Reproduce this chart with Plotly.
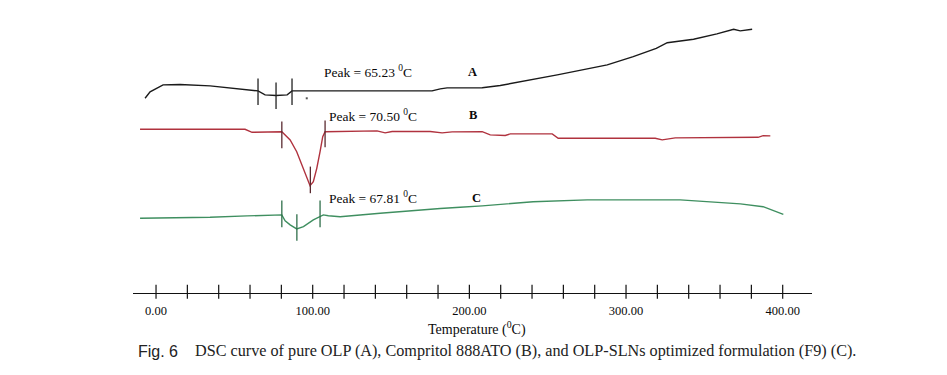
import plotly.graph_objects as go

# ---- data (temperature in degC, heat flow in arbitrary units) ----
a_temp = [-7.0, -3.8, 4.5, 15.3, 34.5, 53.6, 65.1, 69.6, 76.6, 83.7, 86.8, 104.7, 143.0, 176.2,
          181.4, 185.8, 208.2, 219.7, 256.1, 288.0, 304.6, 319.3, 326.3, 343.1, 358.0, 368.7,
          372.9, 380.5]
a_heat = [9.75, 10.07, 10.42, 10.44, 10.37, 10.22, 10.12, 9.92, 9.89, 9.92, 10.12, 10.12, 10.12, 10.12,
          10.22, 10.27, 10.28, 10.39, 10.92, 11.42, 11.83, 12.25, 12.53, 12.70, 12.97, 13.2,
          13.12, 13.2]

b_temp = [-10.2, 56.8, 61.3, 80.3, 81.3, 85.6, 89.8, 93.0, 96.2, 98.3, 100.4, 102.6, 104.7, 106.4,
          107.9, 141.1, 146.2, 150.7, 175.0, 182.6, 189.0, 208.2, 213.3, 222.9, 226.1, 252.9,
          256.7, 318.6, 323.1, 331.4, 384.3, 387.5, 392.1]
b_heat = [8.2, 8.2, 8.05, 8.08, 8.0, 7.67, 7.08, 6.42, 5.75, 5.38, 5.58, 6.25, 7.08, 7.83,
          8.08, 8.12, 8.02, 8.09, 8.09, 8.02, 8.07, 8.08, 7.92, 7.89, 7.97, 7.97,
          7.75, 7.75, 7.67, 7.77, 7.8, 7.88, 7.87]

c_temp = [-10.2, 34.5, 58.1, 72.8, 80.3, 82.4, 85.6, 89.8, 94.1, 100.4, 104.7, 106.8, 110.0, 117.5,
          143.0, 168.6, 181.4, 194.1, 208.2, 240.7, 275.2, 334.6, 351.9, 373.0, 387.5, 400.4]
c_heat = [3.75, 3.8, 3.87, 3.92, 3.92, 3.62, 3.42, 3.22, 3.33, 3.67, 3.83, 3.92, 3.88, 3.83,
          4.0, 4.17, 4.24, 4.3, 4.37, 4.58, 4.67, 4.67, 4.58, 4.47, 4.33, 3.95]

# onset / peak / endset markers
a_mark_temp = [65.1, 76.6, 86.8]
a_mark_heat = [10.08, 9.88, 10.08]
b_mark_temp = [80.3, 98.5, 107.9]
b_mark_heat = [7.92, 5.67, 7.97]
c_mark_temp = [80.3, 89.9, 104.7]
c_mark_heat = [3.97, 3.29, 3.97]

peak_labels = ["Peak = 65.23 <sup>0</sup>C", "Peak = 70.50 <sup>0</sup>C", "Peak = 67.81 <sup>0</sup>C"]
peak_label_temp = [135.6, 138.6, 138.6]
curve_names = ["A", "B", "C"]
name_temp = [201.8, 202.4, 204.3]
label_heat = [11.08, 8.9, 4.77]

major_ticks = [0, 100, 200, 300, 400]
major_tick_text = ["0.00", "100.00", "200.00", "300.00", "400.00"]
minor_ticks = list(range(0, 401, 20))

x_title = "Temperature (<sup>0</sup>C)"
fig_label = "Fig. 6"
caption = "DSC curve of pure OLP (A), Compritol 888ATO (B), and OLP-SLNs optimized formulation (F9) (C)."

colors = {"A": "#1a1a1a", "B": "#b0323e", "C": "#3f8f60"}
mark_colors = {"A": "#222222", "B": "#5a2a30", "C": "#2f6f4a"}
SERIF = "Liberation Serif, Times New Roman, serif"

# page has an 8px body margin; figure is sized to fill the rest of the window
W, H, OFF = 939, 367, 8


def px_x(p):
    return (p - OFF) / W


def px_y(p):
    return 1 - (p - OFF) / H


fig = go.Figure()
for name, xs, ys in [("A", a_temp, a_heat), ("B", b_temp, b_heat), ("C", c_temp, c_heat)]:
    fig.add_trace(go.Scatter(x=xs, y=ys, mode="lines", line=dict(color=colors[name], width=1.4),
                             showlegend=False, hoverinfo="skip"))
for name, xs, ys in [("A", a_mark_temp, a_mark_heat), ("B", b_mark_temp, b_mark_heat),
                     ("C", c_mark_temp, c_mark_heat)]:
    fig.add_trace(go.Scatter(x=xs, y=ys, mode="markers",
                             marker=dict(symbol="line-ns", size=19,
                                         line=dict(color=mark_colors[name], width=1.3)),
                             showlegend=False, hoverinfo="skip", cliponaxis=False))
# small stray dot on curve A
fig.add_trace(go.Scatter(x=[96.2], y=[9.75], mode="markers",
                         marker=dict(symbol="square", size=2, color="#555555"),
                         showlegend=False, hoverinfo="skip"))
# axis tick marks crossing the axis line
fig.add_trace(go.Scatter(x=minor_ticks, y=[0.08] * len(minor_ticks), mode="markers",
                         marker=dict(symbol="line-ns", size=10, line=dict(color="#111111", width=1.2)),
                         showlegend=False, hoverinfo="skip", cliponaxis=False))

annotations = []
for txt, tx, ty in zip(peak_labels, peak_label_temp, label_heat):
    annotations.append(dict(x=tx, y=ty, xref="x", yref="y", text=txt, showarrow=False,
                            font=dict(family=SERIF, size=13.5, color="#0a0a0a")))
for txt, tx, ty in zip(curve_names, name_temp, label_heat):
    annotations.append(dict(x=tx, y=ty, xref="x", yref="y", text="<b>" + txt + "</b>", showarrow=False,
                            font=dict(family=SERIF, size=12.5, color="#0a0a0a")))
annotations.append(dict(x=205, y=px_y(328), xref="x", yref="paper", yanchor="middle",
                        text=x_title, showarrow=False,
                        font=dict(family=SERIF, size=14, color="#0a0a0a")))
annotations.append(dict(x=px_x(136), y=px_y(351), xref="paper", yref="paper", xanchor="left",
                        yanchor="middle", text=fig_label, showarrow=False,
                        font=dict(family="Liberation Sans, Arial, sans-serif", size=16, color="#222222")))
annotations.append(dict(x=px_x(193), y=px_y(351), xref="paper", yref="paper", xanchor="left",
                        yanchor="middle", text=caption, showarrow=False,
                        font=dict(family=SERIF, size=16.2, color="#222222")))

fig.update_layout(
    width=W, height=H,
    margin=dict(l=0, r=0, t=0, b=0),
    paper_bgcolor="white", plot_bgcolor="white",
    annotations=annotations,
    xaxis=dict(domain=[px_x(133), px_x(812)], range=[-14.7, 418.7], anchor="free",
               position=px_y(293.3), showline=True, linecolor="#111111", linewidth=1.3,
               showgrid=False, zeroline=False, ticks="", tickvals=major_ticks,
               ticktext=major_tick_text, ticklabelstandoff=6,
               tickfont=dict(family=SERIF, size=12.5, color="#0a0a0a")),
    yaxis=dict(domain=[0, 1], range=[-4.085, (293.3 - OFF) / 20], visible=False,
               showgrid=False, zeroline=False),
)

fig.write_html("out.html")
